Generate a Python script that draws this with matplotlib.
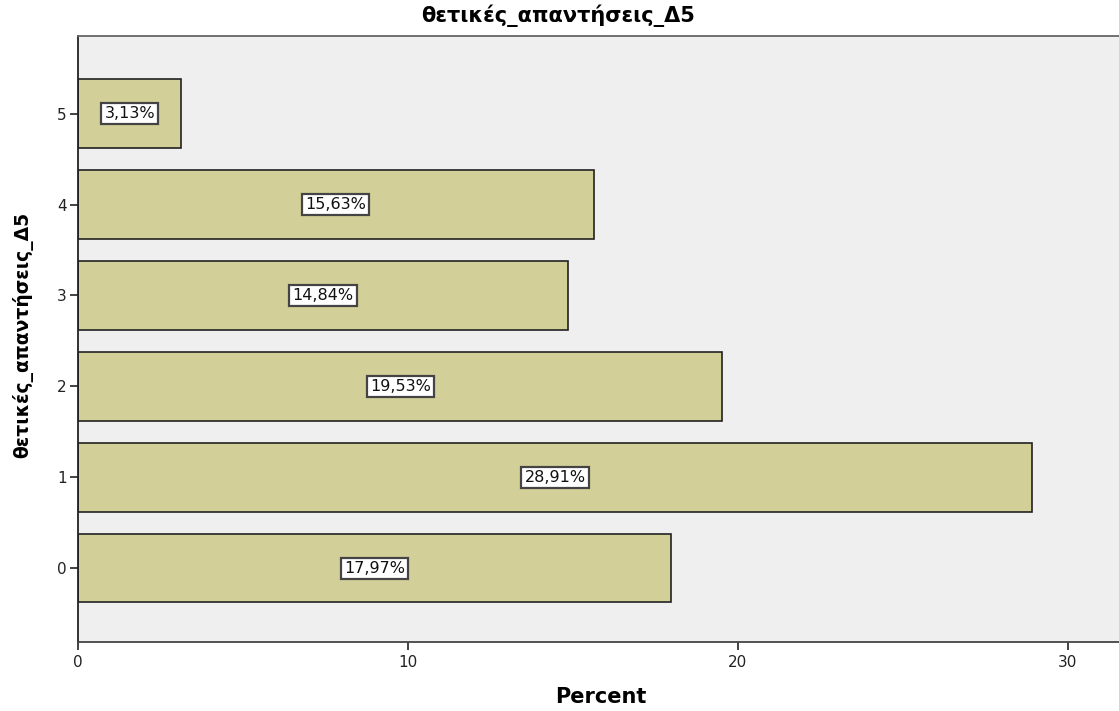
import matplotlib.pyplot as plt

categories = [0, 1, 2, 3, 4, 5]
percents = [17.97, 28.91, 19.53, 14.84, 15.63, 3.13]
labels = ['17,97%', '28,91%', '19,53%', '14,84%', '15,63%', '3,13%']

plt.rcParams['font.family'] = ['DejaVu Sans']

fig = plt.figure(figsize=(11.19, 7.11), dpi=100)
ax = fig.add_axes([0.0697, 0.097, 0.9303, 0.852])
ax.set_facecolor('#efefef')

ax.barh(categories, percents, height=0.75, color='#d3cf98',
        edgecolor='#222222', linewidth=1.2, zorder=2)

for y, v, s in zip(categories, percents, labels):
    ax.text(v / 2, y, s, ha='center', va='center', fontsize=11.5, zorder=3,
            color='#111111',
            bbox=dict(boxstyle='square,pad=0.2', fc='white', ec='#444444', lw=1.6))

ax.set_xlim(0, 31.55)
ax.set_ylim(-0.81, 5.85)
ax.set_xticks([0, 10, 20, 30])
ax.set_yticks(categories)
ax.tick_params(axis='both', labelsize=11, colors='#222222', length=6, width=1.2)
ax.tick_params(axis='y', pad=2)

ax.spines['right'].set_visible(False)
ax.spines['left'].set_color('#222222')
ax.spines['bottom'].set_color('#444444')
ax.spines['top'].set_color('#666666')
for side in ['left', 'bottom', 'top']:
    ax.spines[side].set_linewidth(1.3)

fig.text(0.499, 0.978, 'θετικές_απαντήσεις_Δ5', ha='center', va='center',
         fontsize=15, fontweight='bold')
fig.text(0.537, 0.02, 'Percent', ha='center', va='center',
         fontsize=15, fontweight='bold')
fig.text(0.02, 0.529, 'θετικές_απαντήσεις_Δ5', ha='center', va='center',
         fontsize=13.5, fontweight='bold', rotation=90)

fig.savefig('out.png', dpi=100)
